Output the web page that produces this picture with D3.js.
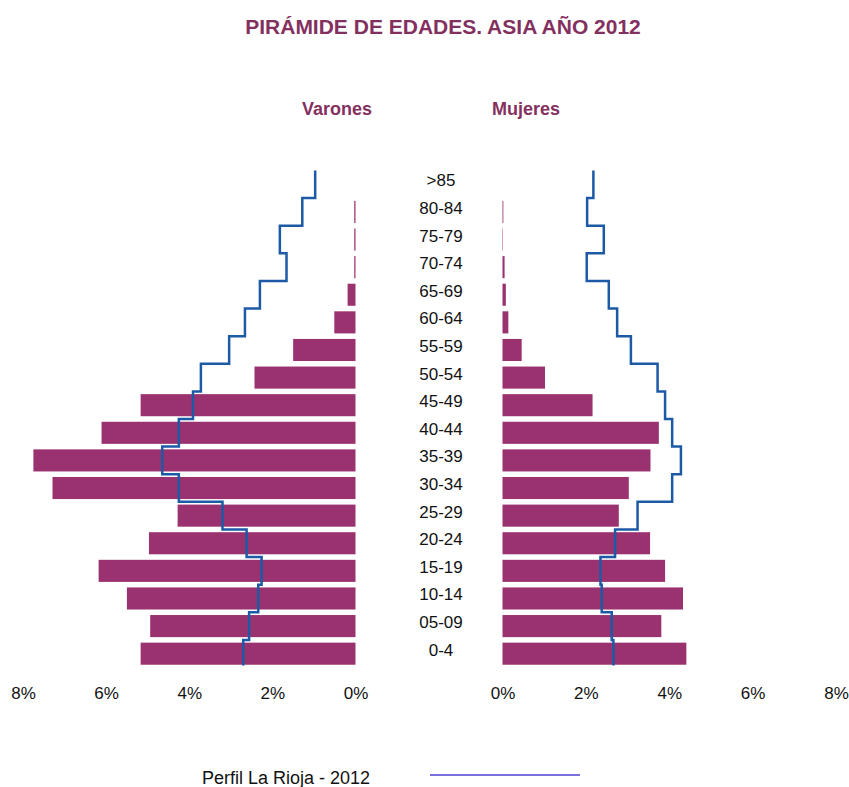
<!DOCTYPE html>
<html>
<head>
<meta charset="utf-8">
<script src="https://cdn.jsdelivr.net/npm/d3@7"></script>
<style>
  body { margin: 0; background: #fff; }
  text { font-family: "Liberation Sans", Arial, sans-serif; }
</style>
</head>
<body>
<div id="chart"></div>
<script>
var ages = [">85", "80-84", "75-79", "70-74", "65-69", "60-64", "55-59", "50-54", "45-49",
            "40-44", "35-39", "30-34", "25-29", "20-24", "15-19", "10-14", "05-09", "0-4"];
var varones = [0, 0.03, 0.03, 0.03, 0.19, 0.51, 1.50, 2.43, 5.17, 6.11, 7.75, 7.29, 4.28, 4.97, 6.18, 5.50, 4.94, 5.17];
var mujeres = [0, 0.02, 0.01, 0.05, 0.08, 0.14, 0.46, 1.02, 2.16, 3.75, 3.55, 3.03, 2.79, 3.54, 3.90, 4.33, 3.81, 4.41];
var riojaVarones = [0.97, 1.28, 1.82, 1.66, 2.30, 2.66, 3.04, 3.72, 3.91, 4.25, 4.65, 4.25, 3.20, 2.62, 2.26, 2.34, 2.56, 2.70];
var riojaMujeres = [2.18, 2.03, 2.43, 2.02, 2.55, 2.75, 3.08, 3.72, 3.90, 4.07, 4.28, 4.07, 3.24, 2.70, 2.35, 2.38, 2.62, 2.66];
var ticks = [0, 2, 4, 6, 8];

var width = 849, height = 787;
var barColor = '#9b3270';
var lineColor = '#1c5aa6';
var titleColor = '#84305f';

var svg = d3.select('#chart')
  .append('svg')
  .attr('width', width)
  .attr('height', height);

var xL = d3.scaleLinear().domain([0, 8]).range([355.5, 23]);
var xR = d3.scaleLinear().domain([0, 8]).range([502.5, 836]);

var y = d3.scaleBand()
  .domain(ages)
  .range([170.5, 667.5])
  .paddingInner(0.2)
  .paddingOuter(0.1);

// band without padding, for the step line
var yStep = d3.scaleBand().domain(ages).range([170.5, 667.5]).padding(0);

// title
svg.append('text')
  .attr('x', 443)
  .attr('y', 34)
  .attr('text-anchor', 'middle')
  .style('font-size', '21px')
  .style('font-weight', 'bold')
  .style('fill', titleColor)
  .text('PIRÁMIDE DE EDADES. ASIA AÑO 2012');

svg.append('text')
  .attr('x', 337)
  .attr('y', 115)
  .attr('text-anchor', 'middle')
  .style('font-size', '18px')
  .style('font-weight', 'bold')
  .style('fill', titleColor)
  .text('Varones');

svg.append('text')
  .attr('x', 526)
  .attr('y', 115)
  .attr('text-anchor', 'middle')
  .style('font-size', '18px')
  .style('font-weight', 'bold')
  .style('fill', titleColor)
  .text('Mujeres');

// bars
svg.append('g').selectAll('rect')
  .data(ages)
  .enter()
  .append('rect')
  .attr('x', function(d, i) { return xL(varones[i]); })
  .attr('y', function(d) { return y(d); })
  .attr('width', function(d, i) { return xL(0) - xL(varones[i]); })
  .attr('height', y.bandwidth())
  .attr('fill', barColor);

svg.append('g').selectAll('rect')
  .data(ages)
  .enter()
  .append('rect')
  .attr('x', xR(0))
  .attr('y', function(d) { return y(d); })
  .attr('width', function(d, i) { return xR(mujeres[i]) - xR(0); })
  .attr('height', y.bandwidth())
  .attr('fill', barColor);

// age labels
svg.append('g').selectAll('text')
  .data(ages)
  .enter()
  .append('text')
  .attr('x', 441)
  .attr('y', function(d) { return y(d) + y.bandwidth() / 2 + 2; })
  .attr('text-anchor', 'middle')
  .style('font-size', '17px')
  .style('fill', '#111')
  .text(function(d) { return d; });

// step lines (La Rioja profile)
function stepPoints(vals, x) {
  var pts = [];
  ages.forEach(function(a, i) {
    pts.push([x(vals[i]), yStep(a)]);
    pts.push([x(vals[i]), yStep(a) + yStep.bandwidth() - (i === ages.length - 1 ? 2 : 0)]);
  });
  return pts;
}

var line = d3.line();

svg.append('path')
  .attr('d', line(stepPoints(riojaVarones, xL)))
  .attr('fill', 'none')
  .attr('stroke', lineColor)
  .attr('stroke-width', 2.5);

svg.append('path')
  .attr('d', line(stepPoints(riojaMujeres, xR)))
  .attr('fill', 'none')
  .attr('stroke', lineColor)
  .attr('stroke-width', 2.5);

// axes
var fmt = function(d) { return d + '%'; };

var axL = svg.append('g')
  .attr('transform', 'translate(0,684)')
  .call(d3.axisBottom(xL).tickValues(ticks).tickFormat(fmt).tickSize(0));
var axR = svg.append('g')
  .attr('transform', 'translate(0,684)')
  .call(d3.axisBottom(xR).tickValues(ticks).tickFormat(fmt).tickSize(0));

[axL, axR].forEach(function(ax) {
  ax.select('.domain').remove();
  ax.selectAll('text')
    .style('font-size', '17px')
    .style('font-family', '"Liberation Sans", Arial, sans-serif')
    .style('fill', '#111');
});

// legend
svg.append('text')
  .attr('x', 202)
  .attr('y', 784)
  .style('font-size', '18px')
  .style('fill', '#111')
  .text('Perfil La Rioja - 2012');

svg.append('line')
  .attr('x1', 430)
  .attr('x2', 580)
  .attr('y1', 775)
  .attr('y2', 775)
  .attr('stroke', '#7b70e0')
  .attr('stroke-width', 2);
</script>
</body>
</html>
